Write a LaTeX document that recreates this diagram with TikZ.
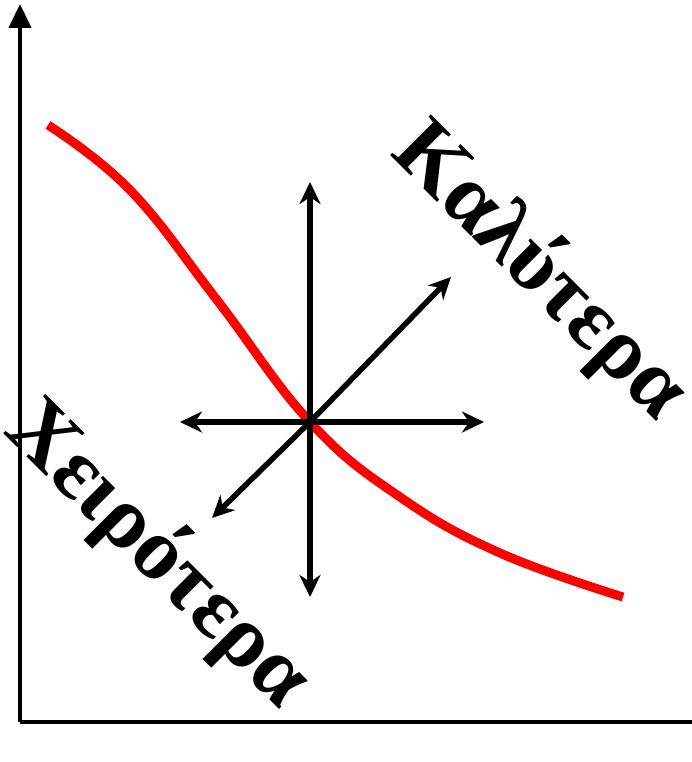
\documentclass[tikz,border=0pt]{standalone}
\usepackage{fontspec}
\setmainfont{Liberation Serif}
\usetikzlibrary{arrows.meta}
\definecolor{ink}{HTML}{000000}
\definecolor{curve}{HTML}{FF0000}
\tikzset{
  axis/.style={line width=4pt,draw=ink},
  tip/.tip={Stealth[length=22pt,width=21pt,inset=7pt]},
  dirarrow/.style={tip-tip,line width=5.5pt,draw=ink},
  halfarrow/.style={-tip,line width=5.5pt,draw=ink},
  trend/.style={line width=9pt,draw=curve},
  biglabel/.style={font=\fontsize{88}{90}\selectfont\bfseries,text=ink,inner sep=0pt,rotate=-45}
}

\begin{document}
\begin{tikzpicture}[x=1pt,y=-1pt]
    \useasboundingbox (0,0) rectangle (692,762);
    % axes
    \coordinate (origin) at (20,722);
    \coordinate (ytop) at (20,4);
    \coordinate (xend) at (692,722);
    \draw[axis,-{Triangle[length=24pt,width=22pt]}] (origin) -- (ytop);
    \draw[axis] (origin) -- (xend);

    % trend curve
    \draw[trend] plot[smooth,tension=0.7] coordinates {(48,125) (130,190) (217,300) (310,422) (400,497) (500,553) (623,597)};

    % direction arrows
    \coordinate (c) at (310,422);
    \coordinate (up) at (310,182);
    \coordinate (down) at (310,597);
    \coordinate (left) at (180,422);
    \coordinate (right) at (484,422);
    \coordinate (ne) at (451,277);
    \coordinate (sw) at (212,518);
    \draw[dirarrow] (up) -- (down);
    \draw[dirarrow] (left) -- (right);
    \draw[halfarrow] (c) -- (ne);
    \draw[halfarrow] (c) -- (sw);

    \node[biglabel] (better) at (540,272) {Καλύτερα};
    \node[biglabel] (worse) at (158,555) {Χειρότερα};
  \end{tikzpicture}
\end{document}
